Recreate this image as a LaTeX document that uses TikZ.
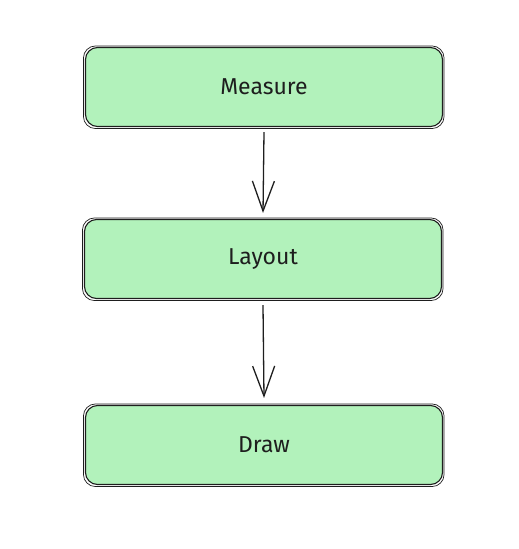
\documentclass[tikz,border=0pt]{standalone}
\usepackage{fontspec}
\setmainfont{Fira Sans}
\usetikzlibrary{arrows.meta}
\definecolor{boxfill}{HTML}{B2F2BB}
\definecolor{ink}{HTML}{1E1E1E}
\tikzset{
  stage/.style={rounded corners=12pt, fill=boxfill, draw=ink, line width=1.1pt,
    minimum width=357pt, minimum height=79pt, inner sep=0pt,
    font=\fontsize{23}{26}\selectfont, text=ink},
  sketch/.style={draw=ink, line width=0.7pt, rounded corners=12pt},
  flow/.style={draw=ink, line width=1.3pt, -{Straight Barb[length=30pt,width=22pt,line width=1.3pt]}}
}
\begin{document}
\begin{tikzpicture}[x=1pt,y=-1pt]
\useasboundingbox (0,0) rectangle (519,549);
\node[stage] (m) at (264,87) {Measure};
\node[stage] (l) at (263,259) {Layout};
\node[stage] (d) at (264,445) {Draw};
\foreach \n in {m,l,d}{
  \draw[sketch] ([xshift=-1.5pt,yshift=1pt]\n.north west) rectangle ([xshift=1pt,yshift=-1.5pt]\n.south east);
}
\draw[flow] ([yshift=-5pt]m.south) -- ([yshift=6pt]l.north);
\draw[flow] ([yshift=-6pt]l.south) -- ([yshift=7pt]d.north);
\end{tikzpicture}
\end{document}
